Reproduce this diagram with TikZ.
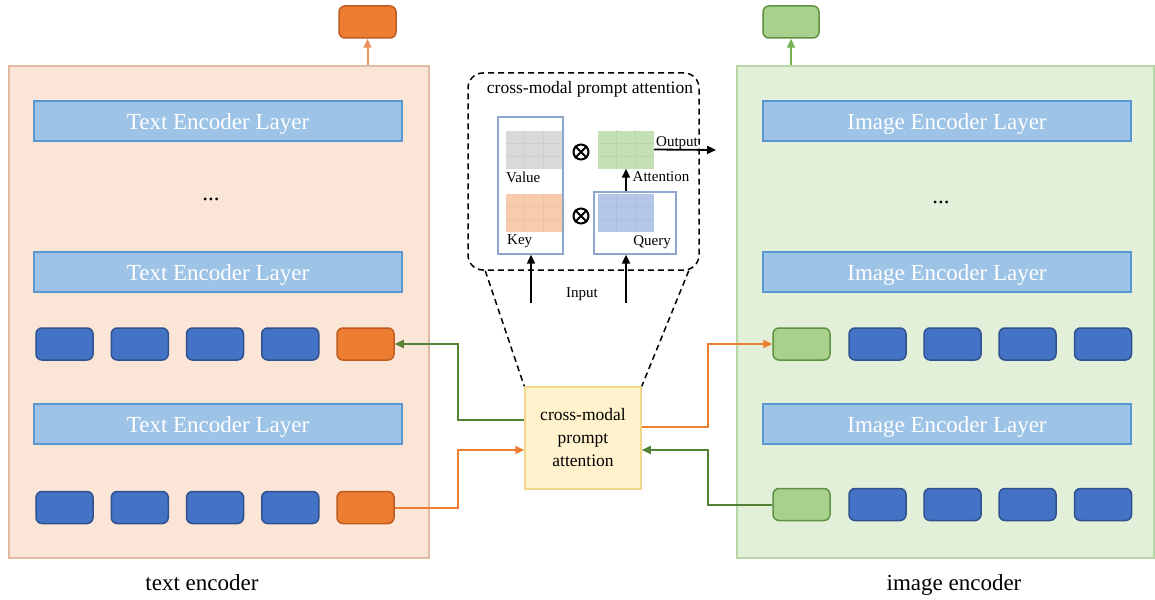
\documentclass[tikz,border=0pt]{standalone}
\usepackage{fontspec}
\setmainfont{Liberation Serif}
\usetikzlibrary{calc,arrows.meta}
\definecolor{peach}{HTML}{FBE5D6}
\definecolor{peachb}{HTML}{E2BBA3}
\definecolor{lgreen}{HTML}{E2F0D9}
\definecolor{lgreenb}{HTML}{B9D6A8}
\definecolor{layerf}{HTML}{9DC3E6}
\definecolor{layerb}{HTML}{5A96D2}
\definecolor{tokb}{HTML}{4472C4}
\definecolor{tokbb}{HTML}{2F528F}
\definecolor{toko}{HTML}{ED7D31}
\definecolor{tokob}{HTML}{C05A1E}
\definecolor{tokg}{HTML}{A9D18E}
\definecolor{tokgb}{HTML}{5E9140}
\definecolor{cmaf}{HTML}{FFF2CC}
\definecolor{cmab}{HTML}{F2D78A}
\definecolor{garr}{HTML}{548235}
\definecolor{oarr}{HTML}{ED7D31}
\definecolor{otop}{HTML}{EE9060}
\definecolor{gtop}{HTML}{76B152}
\definecolor{boxb}{HTML}{8EA6CF}
\definecolor{gridgray}{HTML}{D9D9D9}
\definecolor{gridorange}{HTML}{F8CBAD}
\definecolor{gridgreen}{HTML}{C5E0B4}
\definecolor{gridblue}{HTML}{B4C7E7}
\begin{document}
\begin{tikzpicture}[x=1pt,y=-1pt,
  panel/.style={draw, line width=1.5pt, minimum width=#1, minimum height=492pt, inner sep=0pt},
  layerbox/.style={draw=layerb, fill=layerf, line width=1.5pt, minimum width=368pt, minimum height=40pt, inner sep=0pt, text=white, text height=17pt, text depth=0pt, font=\fontsize{23pt}{27pt}\selectfont},
  tok/.style={rounded corners=6pt, line width=1.5pt, minimum width=57pt, minimum height=32pt, inner sep=0pt},
  btok/.style={tok, draw=tokbb, fill=tokb},
  otok/.style={tok, draw=tokob, fill=toko},
  gtok/.style={tok, draw=tokgb, fill=tokg},
  bigtxt/.style={font=\fontsize{23pt}{27pt}\selectfont},
  midtxt/.style={font=\fontsize{17.5pt}{23pt}\selectfont},
  smalltxt/.style={font=\fontsize{15pt}{18pt}\selectfont, inner sep=0pt},
  gridbox/.style={fill=#1, draw=none, minimum width=56pt, minimum height=38pt, inner sep=0pt},
  otimesnode/.style={circle, draw, line width=2pt, minimum size=15pt, inner sep=0pt},
  dashline/.style={dash pattern=on 6pt off 4pt, line width=1.5pt},
  harr/.style={line width=2pt, -{Triangle[length=9pt,width=8pt]}},
  karr/.style={line width=1.8pt, -{Triangle[length=9pt,width=8pt]}, black}
]
\useasboundingbox (0,0) rectangle (1155,599);
% panels
\node[panel=420pt, draw=peachb, fill=peach] (lpanel) at (219,312) {};
\node[panel=417pt, draw=lgreenb, fill=lgreen] (rpanel) at (945.5,312) {};
% layers
\foreach \n/\y in {1/121,2/272,3/424}{
  \node[layerbox] (tl\n) at (218,\y) {Text Encoder Layer};
  \node[layerbox] (il\n) at (947,\y) {Image Encoder Layer};
}
\node[bigtxt] (ldots) at (211,199.5) {...};
\node[bigtxt] (rdots) at (941,202) {...};
% text tokens
\foreach \i/\x in {1/64.5,2/139.75,3/215,4/290.25}{
  \node[btok] (ta\i) at (\x,344) {};
  \node[btok] (tb\i) at (\x,507.5) {};
}
\node[otok] (ta5) at (365.5,344) {};
\node[otok] (tb5) at (365.5,507.5) {};
% image tokens
\node[gtok] (ia1) at (801.5,344) {};
\node[gtok] (ib1) at (801.5,504.5) {};
\foreach \i/\x in {2/877.5,3/952.5,4/1027.5,5/1103}{
  \node[btok] (ia\i) at (\x,344) {};
  \node[btok] (ib\i) at (\x,504.5) {};
}
% top outputs
\node[otok] (topo) at (367.5,22) {};
\node[gtok, minimum width=56pt] (topg) at (791,22) {};
\draw[harr, draw=otop] (topo.south |- lpanel.north) -- (topo.south);
\draw[harr, draw=gtop] (topg.south |- rpanel.north) -- (topg.south);
% cross-modal prompt attention box
\node[draw=cmab, fill=cmaf, line width=1.5pt, minimum width=116pt, minimum height=102pt, inner sep=0pt, align=center, midtxt] (cma) at (583,438) {cross-modal\\prompt\\attention};
% connectors
\draw[harr, draw=garr] ([yshift=18pt]cma.west) -| (458,344) -- (ta5.east);
\draw[harr, draw=oarr] (tb5.east) -| (458,450) -- ([yshift=-12pt]cma.west);
\draw[harr, draw=oarr] ([yshift=11pt]cma.east) -| (708,344) -- (ia1.west);
\draw[harr, draw=garr] (ib1.west) -| (708,450) -- ([yshift=-12pt]cma.east);
% dashed detail box
\node[draw, dashline, rounded corners=15pt, minimum width=231pt, minimum height=197pt, inner sep=0pt] (dbox) at (583.5,171.5) {};
\draw[dashline] ([xshift=18pt]dbox.south west) -- (cma.north west);
\draw[dashline] ([xshift=-11pt]dbox.south east) -- (cma.north east);
\node[midtxt, inner sep=0pt] (dtitle) at (590,89) {cross-modal prompt attention};
% inner boxes
\node[draw=boxb, line width=1.2pt, minimum width=65pt, minimum height=137pt, inner sep=0pt] (kv) at (530.5,185.5) {};
\node[draw=boxb, line width=1.2pt, minimum width=82pt, minimum height=62pt, inner sep=0pt] (qb) at (635,223) {};
\node[gridbox=gridgray] (gv) at (534,150) {};
\node[gridbox=gridorange] (gk) at (534,213) {};
\node[gridbox=gridgreen] (ga) at (626,149.5) {};
\node[gridbox=gridblue] (gq) at (626,213) {};
\foreach \g/\c in {gv/gridgray,gk/gridorange,ga/gridgreen,gq/gridblue}{
  \foreach \f in {0.3333,0.6667}{
    \draw[line width=0.6pt, draw=\c!95!black] ($(\g.north west)!\f!(\g.north east)$) -- ($(\g.south west)!\f!(\g.south east)$);
    \draw[line width=0.6pt, draw=\c!95!black] ($(\g.north west)!\f!(\g.south west)$) -- ($(\g.north east)!\f!(\g.south east)$);
  }
}
\node[smalltxt, anchor=west] (lv) at (506,177) {Value};
\node[smalltxt, anchor=west] (lk) at (507,241) {Key};
\node[smalltxt] (la) at (661,177) {Attention};
\node[smalltxt] (lq) at (652,242) {Query};
\node[smalltxt] (lo) at (677,143) {Output};
\node[smalltxt] (li) at (582,294) {Input};
\node[otimesnode] (ot1) at (581,152) {};
\node[otimesnode] (ot2) at (581,216) {};
\foreach \o in {ot1,ot2}{
  \draw[line width=2pt] (\o.north west) -- (\o.south east);
  \draw[line width=2pt] (\o.north east) -- (\o.south west);
}
\coordinate (outend) at (716,150);
\coordinate (in1) at (531,303);
\coordinate (in2) at (626,303);
\draw[karr] (ga.east) -- (outend);
\draw[karr] (ga.south |- qb.north) -- (ga.south);
\draw[karr] (in1) -- (in1 |- kv.south);
\draw[karr] (in2) -- (in2 |- qb.south);
% captions
\node[bigtxt, anchor=base] (cap1) at (202,590) {text encoder};
\node[bigtxt, anchor=base] (cap2) at (954,590) {image encoder};
\end{tikzpicture}
\end{document}
